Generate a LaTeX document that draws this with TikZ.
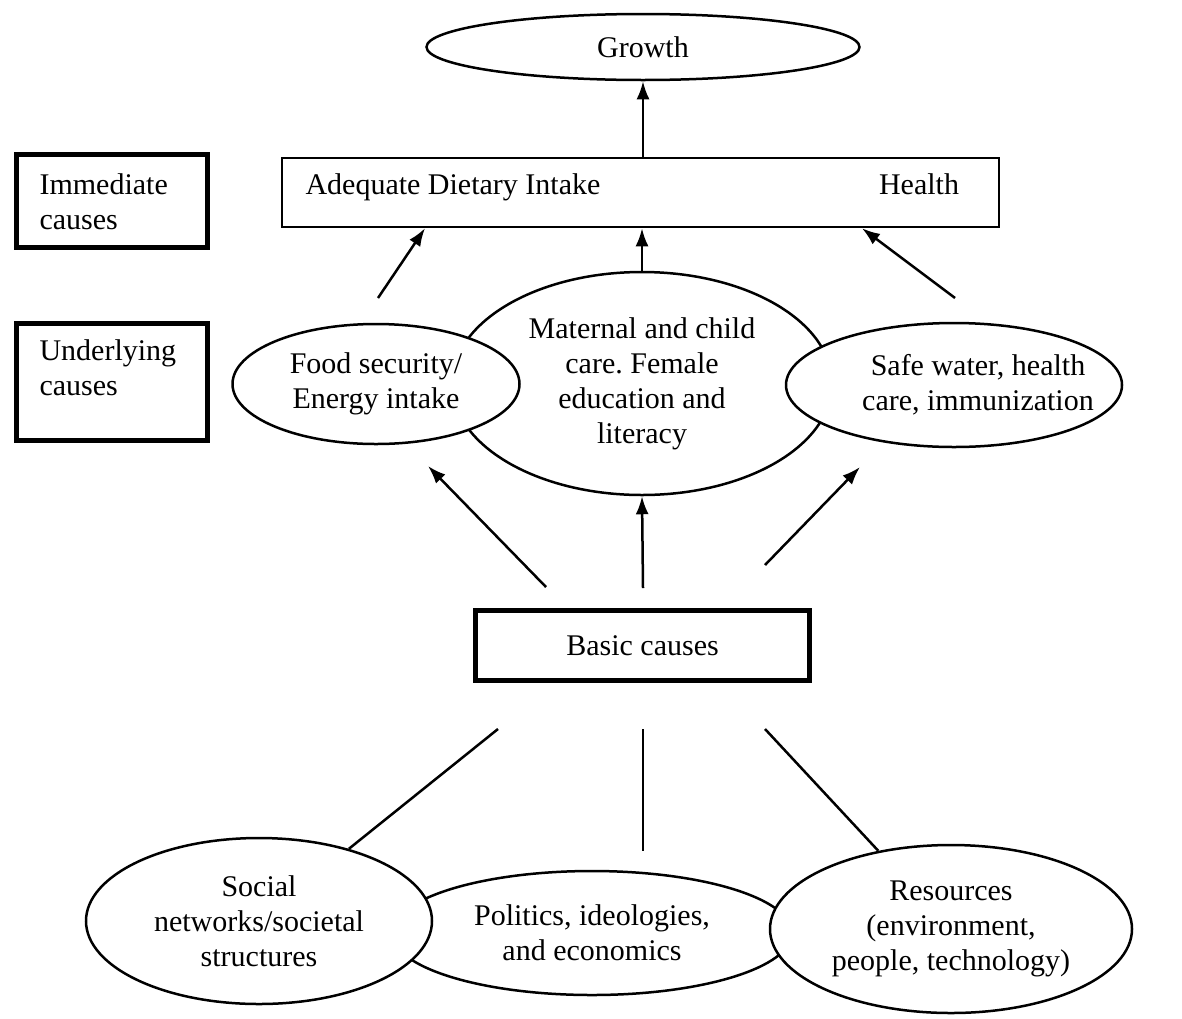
\documentclass[tikz,border=0pt]{standalone}
\usepackage{fontspec}
\setmainfont{Liberation Serif}
\usetikzlibrary{shapes.geometric,arrows.meta}

\tikzset{
  oval/.style={draw, ellipse, line width=2.5pt, fill=white, inner sep=0pt, align=center},
  causebox/.style={draw, line width=5pt, inner sep=0pt},
  arr/.style={line width=2.5pt, -{Latex[length=18pt,width=13pt]}},
  link/.style={line width=2.5pt}
}

\begin{document}
\begin{tikzpicture}[x=1pt, y=-1pt, every node/.style={font=\fontsize{30}{35}\selectfont}]
    \useasboundingbox (0,0) rectangle (1182,1018);
    % levels on the left
    \node[causebox, minimum width=191pt, minimum height=93pt] (immbox) at (112,201) {};
    \node[anchor=west, align=left] (immtext) at (36,202) {Immediate\\causes};
    \node[causebox, minimum width=191pt, minimum height=117pt] (undbox) at (112,382) {};
    \node[anchor=west, align=left] (undtext) at (36,368) {Underlying\\causes};

    % top
    \node[oval, minimum width=433pt, minimum height=66pt] (growth) at (643,47) {Growth};
    \node[draw, line width=2.5pt, minimum width=717pt, minimum height=69pt, inner sep=0pt] (intake) at (640.5,192.5) {};
    \node[anchor=base west] (diet) at (302,194) {Adequate Dietary Intake};
    \node[anchor=base] (health) at (919,194) {Health};

    % underlying causes
    \node[oval, minimum width=380pt, minimum height=223pt] (care) at (642,383.5)
      {Maternal and child\\care.\ Female\\education and\\literacy};
    \node[oval, minimum width=287pt, minimum height=120pt] (food) at (376,384) {Food security/\\Energy intake};
    \node[oval, minimum width=336pt, minimum height=124pt] (water) at (954,385) {};
    \node[align=center] (watertext) at (978,385) {Safe water, health\\care, immunization};

    \node[causebox, minimum width=334pt, minimum height=70pt] (basic) at (642.5,645.5) {Basic causes};

    % basic causes
    \node[oval, minimum width=400pt, minimum height=124pt] (politics) at (592,933) {Politics, ideologies,\\and economics};
    \node[oval, minimum width=346pt, minimum height=166pt] (social) at (259,921) {Social\\networks/societal\\structures};
    \node[oval, minimum width=362pt, minimum height=168pt] (resources) at (951,929) {Resources\\(environment,\\people, technology)};

    % free ends
    \coordinate (fd) at (378,298);
    \coordinate (wt) at (955,298);
    \coordinate (bl) at (546,587);
    \coordinate (bm) at (643,588);
    \coordinate (br) at (765,565);
    \coordinate (tl) at (428,466);
    \coordinate (tr) at (860,467);
    \coordinate (ll) at (498,729);
    \coordinate (lm) at (643,729);
    \coordinate (lr) at (765,729);
    \coordinate (pm) at (643,851);

    \draw[arr] (growth.south |- intake.north) -- (growth.south);
    \draw[arr] (fd) -- (425,0 |- intake.south);
    \draw[arr] (care.north) -- (care.north |- intake.south);
    \draw[arr] (wt) -- (862,0 |- intake.south);
    \draw[arr] (bl) -- (tl);
    \draw[arr] (bm) -- (care.south);
    \draw[arr] (br) -- (tr);
    \draw[link] (ll) -- (social);
    \draw[link] (lm) -- (pm);
    \draw[link] (lr) -- (resources);
\end{tikzpicture}
\end{document}
